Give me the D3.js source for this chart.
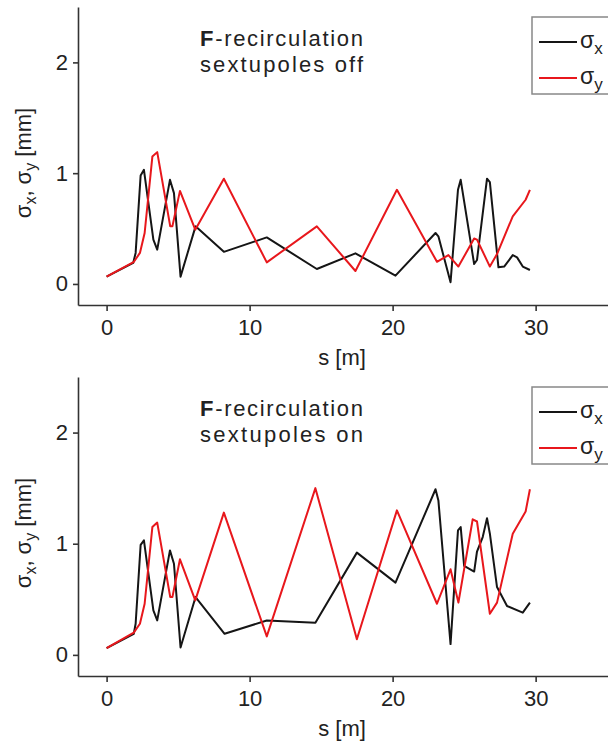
<!DOCTYPE html>
<meta charset="utf-8">
<style>
body { margin: 0; background: #fff; }
svg { font-family: Arial, "Liberation Sans", sans-serif; }
.axis path, .axis line { stroke: #333; stroke-width: 1.6px; }
.axis text { font-size: 22px; fill: #222; }
.series { fill: none; stroke-width: 2px; stroke-linejoin: round; }
</style>
<svg width="608" height="744"></svg>
<script src="https://d3js.org/d3.v7.min.js"></script>
<script>

// ---- data ----
var xTicks = [0, 10, 20, 30];
var yTicks = [0, 1, 2];

// top: sextupoles off
var offSx_s = [0, 1.86, 2.03, 2.38, 2.61, 3.27, 3.54, 4.43, 4.71, 5.17, 6.22, 8.2, 11.2, 14.7, 17.4, 20.2, 23.0, 23.2, 24.05, 24.57, 24.76, 25.7, 25.9, 26.6, 26.8, 27.4, 27.8, 28.4, 28.7, 29.1, 29.6];
var offSx = [0.066, 0.19, 0.28, 0.98, 1.03, 0.40, 0.31, 0.94, 0.82, 0.066, 0.52, 0.29, 0.42, 0.135, 0.276, 0.075, 0.46, 0.43, 0.015, 0.85, 0.94, 0.18, 0.216, 0.95, 0.92, 0.15, 0.157, 0.26, 0.24, 0.157, 0.126];
var offSy_s = [0, 1.91, 2.33, 2.66, 3.2, 3.54, 4.45, 4.6, 5.13, 6.2, 8.2, 11.2, 14.7, 17.4, 20.3, 23.1, 23.9, 24.6, 25.7, 25.9, 26.8, 27.3, 28.4, 29.3, 29.6];
var offSy = [0.066, 0.2, 0.28, 0.46, 1.15, 1.19, 0.52, 0.52, 0.84, 0.49, 0.95, 0.195, 0.52, 0.117, 0.85, 0.2, 0.26, 0.157, 0.41, 0.4, 0.157, 0.27, 0.61, 0.76, 0.85];

// bottom: sextupoles on
var onSx_s = [0, 1.9, 2.03, 2.38, 2.61, 3.27, 3.54, 4.43, 4.71, 5.17, 6.22, 8.25, 11.2, 14.6, 17.5, 20.2, 23.0, 23.2, 24.05, 24.57, 24.76, 25.0, 25.7, 25.9, 26.3, 26.6, 26.8, 27.3, 28.0, 29.1, 29.6];
var onSx = [0.06, 0.19, 0.28, 0.99, 1.03, 0.40, 0.31, 0.94, 0.82, 0.066, 0.52, 0.19, 0.31, 0.29, 0.92, 0.65, 1.49, 1.39, 0.097, 1.12, 1.15, 0.8, 0.75, 0.93, 1.06, 1.23, 1.09, 0.61, 0.44, 0.38, 0.47];
var onSy_s = [0, 1.9, 2.33, 2.66, 3.2, 3.54, 4.45, 4.6, 5.13, 6.2, 8.2, 11.2, 14.6, 17.5, 20.3, 23.1, 24.05, 24.6, 25.6, 25.9, 26.8, 27.3, 28.4, 29.3, 29.6];
var onSy = [0.06, 0.2, 0.28, 0.46, 1.15, 1.19, 0.52, 0.52, 0.86, 0.49, 1.28, 0.166, 1.5, 0.14, 1.30, 0.46, 0.77, 0.47, 1.22, 1.2, 0.37, 0.47, 1.09, 1.29, 1.49];

var titles = [["recirculation", "sextupoles off"], ["recirculation", "sextupoles on"]];

var black = "#151515", red = "#e8171c";

var svg = d3.select("svg");

function zip(s, v) {
  return s.map(function(d, i) { return [d, v[i]]; });
}

function panel(top, bottom, sx, sy, title) {
  var x = d3.scaleLinear().domain([-2, 35.2]).range([78, 610]);
  var y = d3.scaleLinear().domain([-0.19, 2.5]).range([bottom, top]);

  var g = svg.append("g");

  g.append("g")
    .attr("class", "axis")
    .attr("transform", "translate(0," + bottom + ")")
    .call(d3.axisBottom(x).tickValues(xTicks).tickFormat(d3.format("d"))
      .tickSize(6).tickSizeOuter(0).tickPadding(8));

  g.append("g")
    .attr("class", "axis")
    .attr("transform", "translate(78,0)")
    .call(d3.axisLeft(y).tickValues(yTicks).tickFormat(d3.format("d"))
      .tickSize(5).tickSizeOuter(0).tickPadding(5));

  var line = d3.line()
    .x(function(d) { return x(d[0]); })
    .y(function(d) { return y(d[1]); });

  g.append("path").attr("class", "series").attr("stroke", black).attr("d", line(sx));
  g.append("path").attr("class", "series").attr("stroke", red).attr("d", line(sy));

  // x label
  g.append("text")
    .attr("x", 342).attr("y", bottom + 60)
    .attr("text-anchor", "middle")
    .style("font-size", "22px").attr("fill", "#222")
    .text("s [m]");

  // y label
  var yl = g.append("text")
    .attr("transform", "translate(31," + (top + 156) + ") rotate(-90)")
    .attr("text-anchor", "middle")
    .style("font-size", "22px").attr("fill", "#222");
  yl.append("tspan").text("\u03c3");
  yl.append("tspan").attr("dy", 5).style("font-size", "16px").text("x");
  yl.append("tspan").attr("dy", -5).text(", \u03c3");
  yl.append("tspan").attr("dy", 5).style("font-size", "16px").text("y");
  yl.append("tspan").attr("dy", -5).text(" [mm]");

  // title
  var t1 = g.append("text")
    .attr("x", 200).attr("y", top + 39)
    .attr("textLength", 163).attr("lengthAdjust", "spacing")
    .style("font-size", "22px").attr("fill", "#222");
  t1.append("tspan").style("font-weight", "bold").text("F");
  t1.append("tspan").text("-" + title[0]);
  g.append("text")
    .attr("x", 200).attr("y", top + 65)
    .attr("textLength", 163).attr("lengthAdjust", "spacing")
    .style("font-size", "22px").attr("fill", "#222")
    .text(title[1]);

  // legend
  var lg = g.append("g").attr("transform", "translate(532," + (top + 10) + ")");
  lg.append("rect")
    .attr("width", 90).attr("height", 77)
    .attr("fill", "#fff").attr("stroke", "#888").attr("stroke-width", 1.5);
  [[black, "x", 25], [red, "y", 61]].forEach(function(e) {
    lg.append("line")
      .attr("x1", 7).attr("x2", 45).attr("y1", e[2]).attr("y2", e[2])
      .attr("stroke", e[0]).attr("stroke-width", 2);
    var lt = lg.append("text")
      .attr("x", 48).attr("y", e[2] + 6)
      .style("font-size", "23px").attr("fill", "#222");
    lt.append("tspan").text("\u03c3");
    lt.append("tspan").attr("dy", 6).style("font-size", "17px").text(e[1]);
  });
}

panel(7, 305, zip(offSx_s, offSx), zip(offSy_s, offSy), titles[0]);
panel(377, 676, zip(onSx_s, onSx), zip(onSy_s, onSy), titles[1]);

</script>
